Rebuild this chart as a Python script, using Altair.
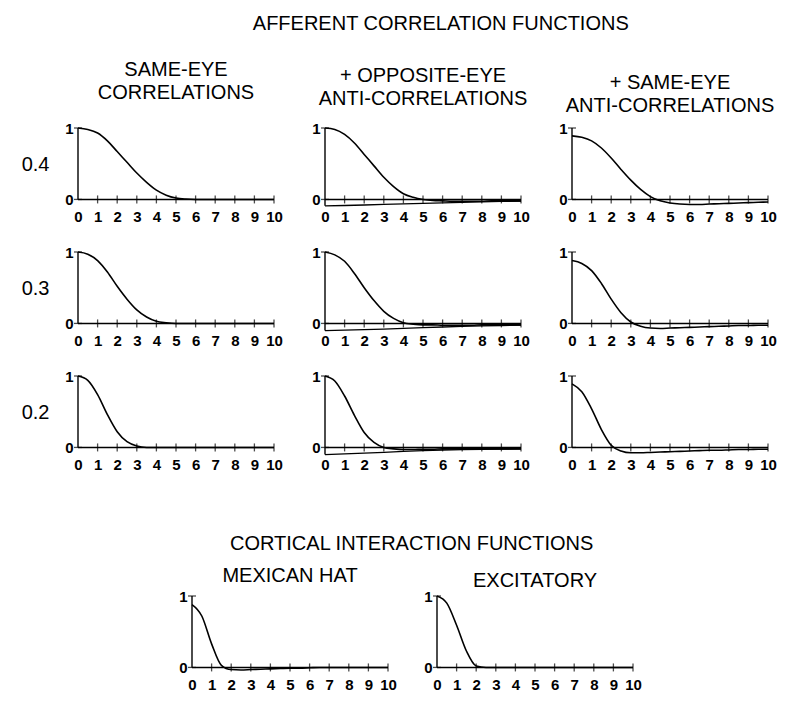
import altair as alt
import pandas as pd

FONT = "Liberation Sans"

# ---------------- data ----------------
X = [0, 0.5, 1, 1.5, 2, 2.5, 3, 3.5, 4, 4.5, 5, 5.5, 6, 6.5, 7, 7.5, 8, 8.5, 9, 9.5, 10]
XI = [0, 1, 2, 3, 4, 5, 6, 7, 8, 9, 10]

row_labels = ["0.4", "0.3", "0.2"]
col_titles = [["SAME-EYE", "CORRELATIONS"],
              ["+ OPPOSITE-EYE", "ANTI-CORRELATIONS"],
              ["+ SAME-EYE", "ANTI-CORRELATIONS"]]

same_04 = [1.00, 0.98, 0.93, 0.82, 0.67, 0.52, 0.37, 0.24, 0.13, 0.06, 0.02, 0.005, 0, 0, 0, 0, 0, 0, 0, 0, 0]
opp_04 = [1.00, 0.98, 0.91, 0.79, 0.63, 0.47, 0.31, 0.18, 0.08, 0.03, 0.0, -0.015, -0.02, -0.025, -0.025, -0.025, -0.025, -0.02, -0.02, -0.02, -0.02]
opp_low_04 = [-0.09, -0.085, -0.078, -0.07, -0.062, -0.054, -0.047, -0.04, -0.034, -0.028, -0.023]
anti_04 = [0.89, 0.87, 0.82, 0.72, 0.58, 0.42, 0.27, 0.14, 0.04, -0.02, -0.05, -0.065, -0.07, -0.07, -0.065, -0.06, -0.055, -0.05, -0.045, -0.04, -0.035]

same_03 = [1.00, 0.97, 0.88, 0.72, 0.52, 0.34, 0.19, 0.09, 0.03, 0.01, 0.0, 0, 0, 0, 0, 0, 0, 0, 0, 0, 0]
opp_03 = [1.00, 0.96, 0.87, 0.70, 0.50, 0.32, 0.17, 0.07, 0.01, -0.01, -0.02, -0.02, -0.025, -0.025, -0.025, -0.025, -0.02, -0.02, -0.02, -0.02, -0.02]
opp_low_03 = [-0.10, -0.095, -0.088, -0.08, -0.07, -0.06, -0.05, -0.042, -0.035, -0.029, -0.024]
anti_03 = [0.88, 0.84, 0.74, 0.56, 0.34, 0.15, 0.02, -0.04, -0.065, -0.07, -0.065, -0.06, -0.055, -0.05, -0.045, -0.04, -0.035, -0.03, -0.03, -0.025, -0.025]

same_02 = [1.00, 0.94, 0.74, 0.46, 0.22, 0.08, 0.02, 0.0, 0, 0, 0, 0, 0, 0, 0, 0, 0, 0, 0, 0, 0]
opp_02 = [1.00, 0.93, 0.72, 0.45, 0.21, 0.07, 0.0, -0.02, -0.03, -0.03, -0.025, -0.025, -0.02, -0.02, -0.02, -0.02, -0.02, -0.02, -0.02, -0.02, -0.02]
opp_low_02 = [-0.10, -0.09, -0.08, -0.068, -0.056, -0.045, -0.036, -0.03, -0.026, -0.023, -0.021]
anti_02 = [0.89, 0.78, 0.54, 0.25, 0.03, -0.05, -0.075, -0.075, -0.07, -0.065, -0.06, -0.055, -0.05, -0.045, -0.04, -0.04, -0.035, -0.03, -0.03, -0.025, -0.025]

mexican_hat = [0.88, 0.72, 0.33, 0.03, -0.03, -0.035, -0.03, -0.025, -0.02, -0.015, -0.01, -0.01, -0.005, 0, 0, 0, 0, 0, 0, 0, 0]
excitatory = [1.00, 0.90, 0.59, 0.23, 0.02, 0, 0, 0, 0, 0, 0, 0, 0, 0, 0, 0, 0, 0, 0, 0, 0]

bottom_title = "CORTICAL INTERACTION FUNCTIONS"
bottom_titles = ["MEXICAN HAT", "EXCITATORY"]
main_title = "AFFERENT CORRELATION FUNCTIONS"

W, H = 196, 80
XS = alt.Scale(domain=[0, 10], nice=False, zero=False)
YS = alt.Scale(domain=[-0.12, 1], nice=False, zero=False)
AX_X = alt.Axis(values=XI, format="d", domain=False, ticks=False, grid=False,
                labelFont=FONT, labelFontSize=15, labelFontWeight="bold",
                labelColor="black", labelPadding=1, labelOverlap=False,
                labelFlush=False, title=None)


def panel(curve, low=None, ylabel=None, title=None, title_offset=10):
    y_axis_kw = dict(values=[0, 1], format="d", domain=False, ticks=False, grid=False,
                     labelFont=FONT, labelFontSize=15, labelFontWeight="bold",
                     labelColor="black", labelPadding=5, labelFlush=False)
    if ylabel:
        y_axis_kw.update(title=ylabel, titleAngle=0, titleAlign="right",
                         titleBaseline="middle", titleX=-29, titleY=36,
                         titleFont=FONT, titleFontSize=20, titleFontWeight="normal",
                         titleColor="black")
    else:
        y_axis_kw.update(title=None)
    ax_y = alt.Axis(**y_axis_kw)

    def ex():
        return alt.X("x:Q", scale=XS, axis=AX_X)

    def ey():
        return alt.Y("y:Q", scale=YS, axis=ax_y)

    df = pd.DataFrame({"x": X, "y": curve})
    line = alt.Chart(df).mark_line(interpolate="monotone", color="black", strokeWidth=1.6).encode(
        x=ex(), y=ey())
    y_bottom = low[0] if low is not None else 0
    rules_df = pd.DataFrame({"x": [0, 0], "x2": [10, 0], "y": [0, y_bottom], "y2": [0, 1]})
    rules = alt.Chart(rules_df).mark_rule(color="black", strokeWidth=1.4).encode(
        x=ex(), x2="x2:Q", y=ey(), y2="y2:Q")
    xt = alt.Chart(pd.DataFrame({"x": XI[1:], "y": [0] * 10})).mark_tick(
        orient="vertical", size=8, thickness=1.3, color="black").encode(x=ex(), y=ey())
    yt = alt.Chart(pd.DataFrame({"x": [0, 0], "y": [0, 1]})).mark_tick(
        orient="horizontal", size=8, thickness=1.3, color="black").encode(x=ex(), y=ey())
    layers = [line, rules, xt, yt]
    if low is not None:
        ldf = pd.DataFrame({"x": XI, "y": low})
        layers.append(alt.Chart(ldf).mark_line(color="black", strokeWidth=1.3).encode(
            x=ex(), y=ey()))
    props = dict(width=W, height=H)
    if title:
        props["title"] = alt.TitleParams(text=title, font=FONT, fontSize=20, fontWeight="normal",
                                         color="black", anchor="middle", frame="group",
                                         offset=title_offset, lineHeight=23)
    return alt.layer(*layers).properties(**props)


rows_data = [(same_04, opp_04, opp_low_04, anti_04),
             (same_03, opp_03, opp_low_03, anti_03),
             (same_02, opp_02, opp_low_02, anti_02)]
title_offsets = [18, 12, 5]

rows = []
for r, (s, o, ol, a) in enumerate(rows_data):
    if r == 0:
        p1 = panel(s, ylabel=row_labels[r], title=col_titles[0], title_offset=title_offsets[0])
        p2 = panel(o, low=ol, title=col_titles[1], title_offset=title_offsets[1])
        p3 = panel(a, title=col_titles[2], title_offset=title_offsets[2])
    else:
        p1 = panel(s, ylabel=row_labels[r])
        p2 = panel(o, low=ol)
        p3 = panel(a)
    rows.append(alt.hconcat(p1, p2, p3, spacing=51, bounds="flush"))

top_block = alt.vconcat(*rows, spacing=21)

spacer = alt.Chart(pd.DataFrame({"v": [0]})).mark_point(opacity=0, size=1).encode(
    x=alt.value(30), y=alt.value(40)).properties(width=65, height=H)
mex = panel(mexican_hat, title=[bottom_titles[0]], title_offset=3)
exc = panel(excitatory, title=[bottom_titles[1]], title_offset=-2)
bottom = alt.hconcat(spacer, mex, exc, spacing=49, bounds="flush",
                     title=alt.TitleParams(text=bottom_title, font=FONT, fontSize=20,
                                           fontWeight="normal", color="black",
                                           anchor="middle", dx=52, offset=12))

chart = alt.vconcat(top_block, bottom, spacing=62,
                    title=alt.TitleParams(text=main_title, font=FONT, fontSize=20,
                                          fontWeight="normal", color="black",
                                          anchor="middle", dx=42, offset=26)
                    ).properties(padding={"left": 13, "top": 6, "right": 5, "bottom": 5}
                    ).configure_view(stroke=None)

chart.save("out.html", embed_options={"renderer": "svg", "actions": False})
